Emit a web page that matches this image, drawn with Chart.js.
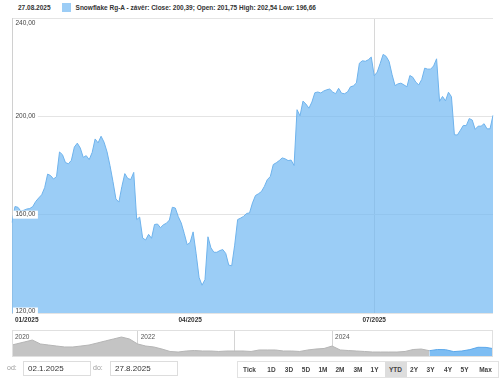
<!DOCTYPE html>
<html>
<head>
<meta charset="utf-8">
<script src="https://cdn.jsdelivr.net/npm/chart.js@4"></script>
<style>
body{margin:0;width:500px;height:381px;overflow:hidden;background:#fff;font-family:"Liberation Sans",Arial,sans-serif;position:relative;color:#333}
#head{position:absolute;left:18px;top:3px;font-size:6.5px;font-weight:bold;white-space:nowrap;line-height:9px}
#head .sw{display:inline-block;width:9px;height:9px;background:#9ccdf6;vertical-align:top;margin:0 5px 0 11px}
#main{position:absolute;left:0;top:0;width:500px;height:330px}
#nav{position:absolute;left:0;top:329px;width:500px;height:29px}
.lbl{position:absolute;top:364px;font-size:7px;color:#999}
.inp{position:absolute;top:361px;height:13px;border:1px solid #ddd;font-size:8px;line-height:13px;padding-left:4px;color:#333;box-sizing:content-box}
#btns{position:absolute;left:237px;top:361px;width:260px;height:15px;border:1px solid #e2e2e2}
#btns span{position:absolute;top:0;height:15px;line-height:15px;font-size:6.5px;font-weight:bold;color:#444;transform:translateX(-50%);text-align:center}
#btns span.on{background:#ddd;width:22px}
</style>
</head>
<body>
<div id="head">27.08.2025<span class="sw"></span>Snowflake Rg-A - závěr: Close: 200,39; Open: 201,75 High: 202,54 Low: 196,66</div>
<div id="main"><canvas id="c1"></canvas></div>
<div id="nav"><canvas id="c2"></canvas></div>
<span class="lbl" style="left:7px">od:</span>
<div class="inp" style="left:23px;width:62px">02.1.2025</div>
<span class="lbl" style="left:93px">do:</span>
<div class="inp" style="left:110px;width:62px">27.8.2025</div>
<div id="btns"></div>
<script>
// trading days 2.1.2025 - 27.8.2025 (NYSE closed on these)
var holidays = ['2025-01-09', '2025-01-20', '2025-02-17', '2025-04-18', '2025-05-26', '2025-06-19', '2025-07-04'];
var startDay = '2025-01-02', endDay = '2025-08-27';

var closes = [156.8, 163.3, 163.0, 161.4, 161.8, 162.3, 162.5, 163.3, 165.4, 166.8,
  168.1, 171.0, 176.5, 175.9, 174.5, 175.5, 185.5, 184.4, 181.2, 180.7,
  182.1, 187.5, 189.1, 187.1, 183.3, 184.0, 182.4, 185.3, 190.8, 189.2,
  191.9, 189.5, 185.6, 180.0, 173.5, 166.4, 165.1, 171.4, 176.7, 174.7,
  174.3, 177.2, 158.0, 159.0, 150.5, 149.7, 152.0, 150.4, 156.0, 156.2,
  154.7, 155.9, 156.5, 157.8, 163.0, 162.7, 159.2, 156.6, 152.4, 147.8,
  148.7, 153.0, 144.3, 134.5, 131.3, 133.6, 151.0, 146.5, 144.7, 144.7,
  145.4, 145.8, 144.2, 139.5, 139.2, 147.6, 158.0, 158.6, 159.3, 160.5,
  160.7, 164.8, 167.8, 168.5, 169.4, 171.5, 174.3, 175.5, 180.4, 181.1,
  182.0, 183.1, 182.7, 182.0, 182.2, 180.0, 202.7, 200.2, 206.2, 205.0,
  203.3, 205.8, 209.6, 209.9, 209.5, 210.3, 210.8, 211.1, 209.9, 209.2,
  211.4, 209.4, 209.2, 209.9, 212.0, 212.4, 213.6, 221.6, 222.6, 222.4,
  223.0, 224.1, 216.5, 218.0, 221.5, 225.2, 224.4, 222.3, 217.0, 212.5,
  213.2, 213.5, 212.8, 212.0, 216.6, 215.9, 213.9, 212.8, 215.0, 219.6,
  219.2, 219.2, 220.5, 223.4, 206.1, 208.1, 206.3, 209.8, 208.0, 192.5,
  192.4, 194.3, 196.3, 196.2, 199.1, 198.5, 194.7, 196.0, 196.0, 197.0,
  194.9, 194.9, 200.39];

var yTicks = [120, 160, 200, 240];
var xTickDates = ['2025-01-02', '2025-04-01', '2025-07-01'];
var xTickLabels = ['01/2025', '04/2025', '07/2025'];

// navigator: whole history, one point a month
var navGrey = [260, 277, 310, 343, 277, 260, 243, 227, 227, 243,
  260, 293, 327, 360, 393, 360, 277, 243, 227, 193,
  152, 143, 160, 168, 160, 160, 152, 160, 160, 160,
  152, 177, 177, 177, 160, 160, 152, 177, 193, 202,
  243, 177, 168, 160, 152, 143, 143, 143, 143, 152,
  185, 193, 165];
var navBlue = [165, 185, 182, 150, 160, 183, 222, 220, 200];
var navYearLabels = ['2020', '2022', '2024'];

var buttons = ['Tick', '1D', '3D', '5D', '1M', '2M', '3M', '1Y', 'YTD', '2Y', '3Y', '4Y', '5Y', 'Max'];
var btnCenters = [11.5, 33.5, 51, 68, 85, 102, 120, 136.5, 157.5, 176, 192.5, 210, 226.5, 247.5];

function iso(d) { return d.toISOString().slice(0, 10); }

var days = [];
for (var d = new Date(startDay + 'T00:00:00Z'); iso(d) <= endDay; d.setUTCDate(d.getUTCDate() + 1)) {
  var wd = d.getUTCDay();
  if (wd === 0 || wd === 6 || holidays.indexOf(iso(d)) >= 0) continue;
  days.push(iso(d));
}
var tickIdx = xTickDates.map(function (t) { return days.indexOf(t); });

function fmt(v) { return v.toFixed(2).replace('.', ','); }

var labelPlugin = {
  id: 'labels',
  afterDatasetsDraw: function (chart) {
    var ctx = chart.ctx, a = chart.chartArea;
    var y = chart.scales.y, x = chart.scales.x;
    ctx.save();
    ctx.font = '6.5px "Liberation Sans", Arial';
    ctx.textBaseline = 'middle';
    yTicks.forEach(function (v) {
      var py = y.getPixelForValue(v);
      py = Math.max(py, a.top + 5.5);
      py = Math.min(py, a.bottom - 1.5);
      var t = fmt(v), w = ctx.measureText(t).width;
      ctx.fillStyle = '#fff';
      ctx.fillRect(a.left + 1, py - 4, w + 5, 8);
      ctx.fillStyle = '#444';
      ctx.fillText(t, a.left + 3.5, py);
    });
    ctx.font = 'bold 6.5px "Liberation Sans", Arial';
    ctx.fillStyle = '#333';
    tickIdx.forEach(function (i, k) {
      var t = xTickLabels[k], w = ctx.measureText(t).width;
      var px = x.getPixelForValue(i);
      px = Math.max(px, a.left + 3 + w / 2);
      ctx.textAlign = 'center';
      ctx.fillText(t, px, a.bottom + 7.5);
    });
    ctx.restore();
  }
};

new Chart(document.getElementById('c1'), {
  type: 'line',
  data: {
    labels: days,
    datasets: [{
      data: closes,
      borderColor: '#6fb3ec',
      borderWidth: 1,
      backgroundColor: 'rgba(112,184,242,0.7)',
      fill: 'start',
      pointRadius: 0,
      tension: 0
    }]
  },
  options: {
    responsive: true,
    maintainAspectRatio: false,
    animation: false,
    layout: { padding: { left: 12, right: 7, top: 18, bottom: 17 } },
    plugins: { legend: { display: false }, tooltip: { enabled: false } },
    scales: {
      x: {
        type: 'category',
        offset: false,
        ticks: { display: false, autoSkip: false },
        grid: {
          drawTicks: false,
          color: function (c) { return c.index === tickIdx[2] ? '#d8d8d8' : 'transparent'; }
        },
        border: { display: false }
      },
      y: {
        min: 120,
        max: 240,
        ticks: { display: false, stepSize: 40 },
        grid: { drawTicks: false, color: '#e4e4e4' },
        border: { display: true, color: '#d0d0d0' }
      }
    }
  },
  plugins: [labelPlugin]
});

// navigator
function decYear(s) {
  var p = s.split('-').map(Number);
  return p[0] + (p[1] - 1) / 12 + (p[2] - 1) / 365;
}
var greyPts = [], bluePts = [];
var navDates = ['2020-09-16'];
for (var y = 2020, m = 10; y < 2025 || m === 1 && y === 2025; ) {
  navDates.push(y + '-' + (m < 10 ? '0' : '') + m + '-01');
  if (y === 2025) break;
  m++; if (m > 12) { m = 1; y++; }
}
navDates.forEach(function (s, i) { greyPts.push({ x: decYear(s), y: navGrey[i] }); });
var blueDates = ['2025-01-01', '2025-02-01', '2025-03-01', '2025-04-01', '2025-05-01', '2025-06-01', '2025-07-01', '2025-08-01', '2025-08-27'];
blueDates.forEach(function (s, i) { bluePts.push({ x: decYear(s), y: navBlue[i] }); });

var navPlugin = {
  id: 'navlabels',
  afterDraw: function (chart) {
    var ctx = chart.ctx, a = chart.chartArea, x = chart.scales.x;
    ctx.save();
    ctx.font = '6.5px "Liberation Sans", Arial';
    ctx.fillStyle = '#555';
    ctx.textBaseline = 'middle';
    navYearLabels.forEach(function (t) {
      var px = Math.max(x.getPixelForValue(+t) + 3, a.left + 3);
      ctx.fillText(t, px, a.top + 7);
    });
    ctx.strokeStyle = '#e0e0e0';
    ctx.lineWidth = 1;
    ctx.strokeRect(a.left + 0.5, a.top + 0.5, a.right - a.left - 1, a.bottom - a.top - 1);
    ctx.restore();
  }
};

new Chart(document.getElementById('c2'), {
  type: 'line',
  data: {
    datasets: [
      { data: greyPts, borderColor: '#b5b5b5', borderWidth: 1, backgroundColor: '#c4c4c4', fill: 'start', pointRadius: 0, tension: 0 },
      { data: bluePts, borderColor: '#5aa7ea', borderWidth: 1, backgroundColor: '#7dbdf3', fill: 'start', pointRadius: 0, tension: 0 }
    ]
  },
  options: {
    responsive: true,
    maintainAspectRatio: false,
    animation: false,
    layout: { padding: { left: 12, right: 7, top: 1, bottom: 1 } },
    plugins: { legend: { display: false }, tooltip: { enabled: false } },
    scales: {
      x: {
        type: 'linear',
        min: decYear('2020-09-16'),
        max: decYear('2025-08-27'),
        ticks: { display: false, stepSize: 1 },
        grid: {
          drawTicks: false,
          color: function (c) { return c.tick && Number.isInteger(c.tick.value) ? '#d4d4d4' : 'transparent'; }
        },
        border: { display: false }
      },
      y: {
        min: 60,
        max: 510,
        display: false
      }
    }
  },
  plugins: [navPlugin]
});

var box = document.getElementById('btns');
buttons.forEach(function (b, i) {
  var s = document.createElement('span');
  s.textContent = b;
  s.style.left = btnCenters[i] + 'px';
  if (b === 'YTD') s.className = 'on';
  box.appendChild(s);
});
</script>
</body>
</html>
